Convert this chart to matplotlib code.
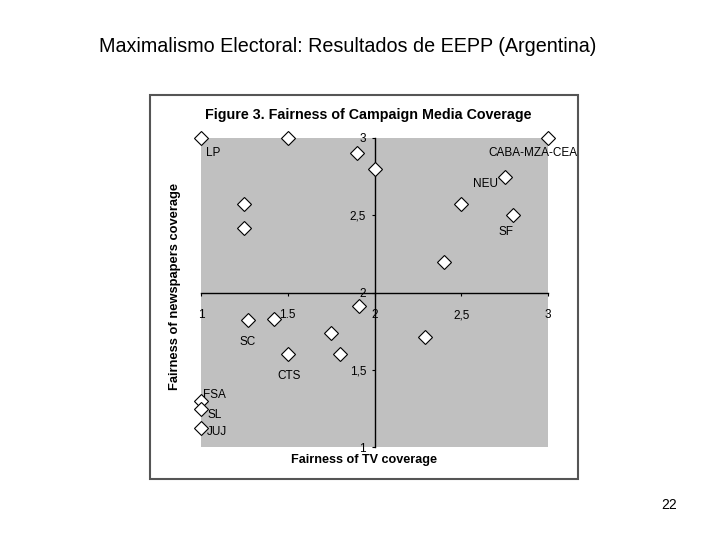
import matplotlib
matplotlib.use('Agg')
import matplotlib.pyplot as plt
from matplotlib.patches import Rectangle

plt.rcParams['font.family'] = ['Liberation Sans', 'DejaVu Sans']

# Fairness of TV coverage (x) vs newspapers coverage (y)
tv = [1.0, 1.5, 3.0, 1.9, 2.0, 2.755, 1.25, 2.5, 2.8, 1.25, 2.4,
      1.91, 1.27, 1.42, 1.75, 2.29, 1.5, 1.8, 1.0, 1.0, 1.0]
diarios = [3.0, 3.0, 3.0, 2.9, 2.8, 2.75, 2.575, 2.575, 2.5, 2.415, 2.2,
           1.915, 1.82, 1.83, 1.74, 1.71, 1.6, 1.6, 1.295, 1.245, 1.125]

# etiquetas: (texto, x, y) en coordenadas de datos
etiquetas = [("LP", 1.03, 2.9), ("CABA-MZA-CEA", 2.655, 2.9),
             ("NEU", 2.57, 2.7), ("SF", 2.715, 2.39),
             ("SC", 1.22, 1.68), ("CTS", 1.44, 1.46),
             ("FSA", 1.01, 1.335), ("SL", 1.035, 1.205), ("JUJ", 1.035, 1.095)]

xticks = [1, 1.5, 2, 2.5, 3]
xticklabels = ["1", "1.5", "2", "2,5", "3"]
yticks = [1, 1.5, 2, 2.5, 3]
yticklabels = ["1", "1,5", "2", "2,5", "3"]

W, H = 720, 540
fig = plt.figure(figsize=(7.2, 5.4), dpi=100)
fig.patch.set_facecolor('white')

# marco de la figura escaneada
fig.patches.append(Rectangle((150 / W, 1 - 479 / H), 428 / W, 384 / H,
                             transform=fig.transFigure, fill=False,
                             edgecolor='#555555', linewidth=1.5))

fig.text(348 / W, 1 - 46 / H, "Maximalismo Electoral: Resultados de EEPP (Argentina)",
         ha='center', va='center', fontsize=14.2)
fig.text(669 / W, 1 - 505 / H, "22", ha='center', va='center', fontsize=10)
fig.text(368 / W, 1 - 115 / H, "Figure 3. Fairness of Campaign Media Coverage",
         ha='center', va='center', fontsize=10.3, fontweight='bold')
fig.text(364 / W, 1 - 460 / H, "Fairness of TV coverage",
         ha='center', va='center', fontsize=9.1, fontweight='bold')
fig.text(175 / W, 1 - 286 / H, "Fairness of newspapers coverage",
         ha='center', va='center', fontsize=9.3, fontweight='bold', rotation=90)

ax = fig.add_axes([201 / W, 1 - 447 / H, 347 / W, 309 / H])
ax.set_facecolor('#c0c0c0')
ax.set_xlim(1, 3)
ax.set_ylim(1, 3)

ax.spines['left'].set_position(('data', 2))
ax.spines['bottom'].set_position(('data', 2))
ax.spines['top'].set_visible(False)
ax.spines['right'].set_visible(False)
for s in ('left', 'bottom'):
    ax.spines[s].set_linewidth(1.0)

ax.set_xticks(xticks)
ax.set_xticklabels(xticklabels)
ax.set_yticks(yticks)
ax.set_yticklabels(yticklabels)
ax.tick_params(axis='x', labelsize=8.5, length=2, width=0.8, direction='out', pad=10)
ax.tick_params(axis='y', labelsize=8.5, length=2, width=0.8, direction='out', pad=4)

ax.plot(tv, diarios, linestyle='none', marker='D', markersize=6.8,
        markerfacecolor='white', markeredgecolor='black', markeredgewidth=0.8,
        clip_on=False, zorder=5)

for texto, x, y in etiquetas:
    ax.text(x, y, texto, fontsize=8.5, ha='left', va='center', clip_on=False)

fig.savefig("out.png", dpi=100, facecolor='white')
